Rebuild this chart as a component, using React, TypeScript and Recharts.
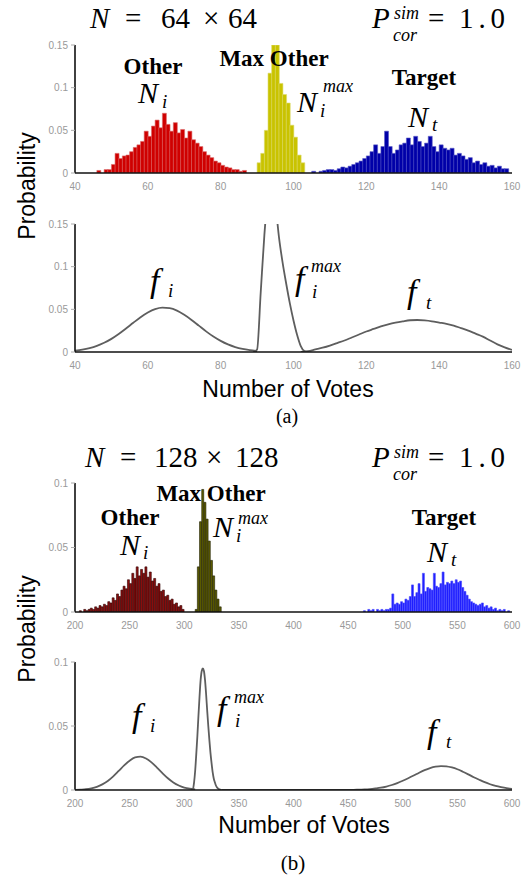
import { ComposedChart, Bar, Line, XAxis, YAxis } from "recharts";

const sans = "'Liberation Sans', Arial, sans-serif";
const serif = "'Liberation Serif', 'Times New Roman', 'DejaVu Serif', serif";

// ---------- (a) N = 64 x 64, one bin per vote ----------
const ticksA = [40, 60, 80, 100, 120, 140, 160];
const yTicksA = [0, 0.05, 0.1, 0.15];

const otherStartA = 45;
const otherA = [
  0.0, 0.003, 0.0, 0.004, 0.004, 0.01, 0.023, 0.017, 0.02, 0.021, 0.025, 0.03,
  0.033, 0.037, 0.049, 0.043, 0.055, 0.062, 0.053, 0.07, 0.057, 0.049, 0.059,
  0.047, 0.051, 0.041, 0.049, 0.039, 0.035, 0.031, 0.025, 0.021, 0.018, 0.014,
  0.012, 0.009, 0.007, 0.006, 0.004, 0.004, 0.002, 0.003,
];
const maxOtherStartA = 90;
const maxOtherA = [
  0.012, 0.023, 0.05, 0.117, 0.17, 0.155, 0.105, 0.092, 0.082, 0.056, 0.042,
  0.021, 0.012,
];
const targetStartA = 105;
const targetA = [
  0.002, 0.0, 0.002, 0.003, 0.004, 0.004, 0.003, 0.005, 0.007, 0.006, 0.008,
  0.01, 0.012, 0.014, 0.017, 0.02, 0.025, 0.033, 0.023, 0.031, 0.049, 0.031,
  0.023, 0.027, 0.033, 0.035, 0.041, 0.033, 0.043, 0.037, 0.031, 0.035, 0.043,
  0.031, 0.025, 0.033, 0.029, 0.027, 0.029, 0.021, 0.023, 0.02, 0.016, 0.018,
  0.012, 0.014, 0.01, 0.012, 0.008, 0.009, 0.006, 0.008, 0.005, 0.005,
];

const fiA: [number, number][] = [
  [40, 0.0016], [42, 0.0028], [44, 0.0046], [46, 0.0072], [48, 0.0108],
  [50, 0.0154], [52, 0.0211], [54, 0.0275], [56, 0.0342], [58, 0.0407],
  [60, 0.0462], [62, 0.0502], [64, 0.0519], [66, 0.0513], [68, 0.0485],
  [70, 0.0436], [72, 0.0376], [74, 0.0309], [76, 0.0242], [78, 0.0181],
  [80, 0.013], [82, 0.0089], [84, 0.0058], [86, 0.0036], [88, 0.0021],
  [90, 0.001],
];
const fMaxA: [number, number][] = [
  [89, 0], [90, 0.003], [91, 0.07], [92, 0.137], [93, 0.185], [94, 0.2],
  [95, 0.175], [96, 0.135], [97, 0.105], [98, 0.08], [99, 0.057], [100, 0.037],
  [101, 0.02], [102, 0.007], [103, 0.001], [104, 0],
];
const ftA: [number, number][] = [
  [102, 0], [104, 0.001], [106, 0.003], [108, 0.005], [110, 0.0075],
  [112, 0.0105], [114, 0.0135], [116, 0.017], [118, 0.0205], [120, 0.024],
  [122, 0.027], [124, 0.03], [126, 0.0325], [128, 0.0345], [130, 0.036],
  [132, 0.0372], [134, 0.0375], [136, 0.037], [138, 0.036], [140, 0.0345],
  [142, 0.033], [144, 0.031], [146, 0.028], [148, 0.025], [150, 0.0215],
  [152, 0.018], [154, 0.0135], [156, 0.009], [158, 0.0055], [160, 0.0025],
];

// ---------- (b) N = 128 x 128, bins of 2 votes ----------
const ticksB = [200, 250, 300, 350, 400, 450, 500, 550, 600];
const yTicksB = [0, 0.05, 0.1];

const otherStartB = 204;
const otherB = [
  0.001, 0.0, 0.002, 0.001, 0.002, 0.003, 0.002, 0.004, 0.003, 0.005, 0.004,
  0.006, 0.005, 0.008, 0.007, 0.011, 0.009, 0.014, 0.012, 0.017, 0.02, 0.018,
  0.025, 0.022, 0.03, 0.026, 0.035, 0.028, 0.033, 0.03, 0.035, 0.027, 0.031,
  0.024, 0.026, 0.02, 0.022, 0.016, 0.017, 0.012, 0.013, 0.009, 0.01, 0.006,
  0.007, 0.004, 0.005, 0.002,
];
const maxOtherStartB = 310;
const maxOtherB = [
  0.002, 0.035, 0.07, 0.095, 0.085, 0.072, 0.055, 0.04, 0.028, 0.017, 0.01,
  0.004,
];
const targetStartB = 464;
const targetB = [
  0.001, 0.0, 0.002, 0.001, 0.002, 0.0, 0.002, 0.001, 0.002, 0.001, 0.002,
  0.002, 0.003, 0.014, 0.006, 0.007, 0.006, 0.008, 0.007, 0.01, 0.009, 0.012,
  0.021, 0.012, 0.015, 0.022, 0.014, 0.03, 0.016, 0.019, 0.018, 0.017, 0.03,
  0.02, 0.019, 0.022, 0.031, 0.021, 0.023, 0.022, 0.024, 0.022, 0.025, 0.023,
  0.024, 0.019, 0.016, 0.013, 0.01, 0.008, 0.007, 0.006, 0.005, 0.006, 0.007,
  0.004, 0.005, 0.003, 0.004, 0.002, 0.003, 0.001, 0.002, 0.001, 0.002, 0.0,
  0.001,
];

const fiB: [number, number][] = [
  [200, 0.0001], [205, 0.0003], [210, 0.0006], [215, 0.0013], [220, 0.0025],
  [225, 0.0044], [230, 0.0071], [235, 0.0107], [240, 0.0149], [245, 0.0192],
  [250, 0.0229], [255, 0.0254], [260, 0.026], [265, 0.0246], [270, 0.0216],
  [275, 0.0175], [280, 0.0132], [285, 0.0092], [290, 0.0059], [295, 0.0035],
  [300, 0.0019], [305, 0.001], [310, 0.0005],
];
const fMaxB: [number, number][] = [
  [306, 0], [308, 0.001], [309, 0.006], [310, 0.015], [311, 0.028],
  [312, 0.042], [313, 0.058], [314, 0.073], [315, 0.086], [316, 0.093],
  [317, 0.095], [318, 0.093], [319, 0.086], [320, 0.075], [321, 0.062],
  [322, 0.05], [323, 0.039], [324, 0.029], [325, 0.021], [326, 0.014],
  [327, 0.009], [328, 0.006], [329, 0.0035], [330, 0.002], [332, 0.0005],
  [334, 0],
];
const ftB: [number, number][] = [
  [334, 0], [450, 0.0001], [455, 0.0001], [460, 0.0003], [465, 0.0004],
  [470, 0.0007], [475, 0.0012], [480, 0.0018], [485, 0.0027], [490, 0.0039],
  [495, 0.0054], [500, 0.0072], [505, 0.0092], [510, 0.0113], [515, 0.0135],
  [520, 0.0155], [525, 0.0171], [530, 0.0182], [535, 0.0187], [540, 0.0185],
  [545, 0.0176], [550, 0.0162], [555, 0.0143], [560, 0.0122], [565, 0.01],
  [570, 0.008], [575, 0.0061], [580, 0.0045], [585, 0.0032], [590, 0.0022],
  [595, 0.0014], [600, 0.0009],
];

type Series = { key: string; start: number; values: number[] };

function histRows(from: number, to: number, step: number, series: Series[]) {
  const rows: Record<string, number>[] = [];
  for (let v = from; v <= to; v += step) {
    const row: Record<string, number> = { v };
    for (const s of series) {
      const i = (v - s.start) / step;
      row[s.key] = i >= 0 && i < s.values.length ? s.values[i] : 0;
    }
    rows.push(row);
  }
  return rows;
}

function curveRows(series: { key: string; pts: [number, number][] }[]) {
  const map = new Map<number, Record<string, number>>();
  for (const s of series) {
    for (const [x, y] of s.pts) {
      const r = map.get(x) ?? { x };
      r[s.key] = y;
      map.set(x, r);
    }
  }
  return [...map.values()].sort((a, b) => a.x - b.x);
}

const histA = histRows(40, 159, 1, [
  { key: "other", start: otherStartA, values: otherA },
  { key: "maxOther", start: maxOtherStartA, values: maxOtherA },
  { key: "target", start: targetStartA, values: targetA },
]);
const histB = histRows(200, 598, 2, [
  { key: "other", start: otherStartB, values: otherB },
  { key: "maxOther", start: maxOtherStartB, values: maxOtherB },
  { key: "target", start: targetStartB, values: targetB },
]);
const curveA = curveRows([
  { key: "fi", pts: fiA },
  { key: "fmax", pts: fMaxA },
  { key: "ft", pts: ftA },
]);
const curveB = curveRows([
  { key: "fi", pts: fiB },
  { key: "fmax", pts: fMaxB },
  { key: "ft", pts: ftB },
]);

const W = 528;
const margin = { top: 10, right: 16, bottom: 0, left: 35 };
const boxLine = { stroke: "#111", strokeWidth: 1.6 };
const tickStyle = { fontSize: 10, fill: "#999", fontFamily: sans };
const innerTick = { stroke: "#c8c8c8" };

function frame(domain: [number, number], ticks: number[], yMax: number, yTicks: number[]) {
  return [
    <XAxis key="b" xAxisId="b" dataKey="x" type="number" domain={domain} ticks={ticks}
      allowDataOverflow interval={0} height={20} tickLine={false} tickMargin={4}
      axisLine={boxLine} tick={tickStyle} />,
    <XAxis key="t" xAxisId="t" orientation="top" type="number" domain={domain} ticks={ticks}
      allowDataOverflow mirror height={0} tick={false} tickSize={3} tickLine={innerTick}
      axisLine={boxLine} />,
    <YAxis key="l" yAxisId="l" type="number" domain={[0, yMax]} ticks={yTicks}
      allowDataOverflow interval={0} width={40} tickSize={4} tickMargin={3}
      tickLine={{ stroke: "#aaa" }} axisLine={boxLine} tick={tickStyle} />,
    <YAxis key="r" yAxisId="r" orientation="right" type="number" domain={[0, yMax]}
      ticks={yTicks} allowDataOverflow mirror width={0} tick={false} tickSize={3}
      tickLine={innerTick} axisLine={boxLine} />,
  ];
}

type Colors = { fill: string; stroke: string };

function Histogram({ data, domain, ticks, yMax, yTicks, colors, plotH }: {
  data: Record<string, number>[]; domain: [number, number]; ticks: number[];
  yMax: number; yTicks: number[]; colors: Colors[]; plotH: number;
}) {
  const keys = ["other", "maxOther", "target"];
  return (
    <ComposedChart width={W} height={margin.top + plotH + 20} data={data} margin={margin}
      barCategoryGap={0} barGap={0}>
      <XAxis xAxisId="cat" dataKey="v" type="category" hide />
      {keys.map((k, i) => (
        <Bar key={k} xAxisId="cat" yAxisId="l" dataKey={k} stackId="h"
          fill={colors[i].fill} stroke={colors[i].stroke} strokeWidth={0.6}
          isAnimationActive={false} />
      ))}
      {frame(domain, ticks, yMax, yTicks)}
    </ComposedChart>
  );
}

function Curves({ data, domain, ticks, yMax, yTicks, plotH }: {
  data: Record<string, number>[]; domain: [number, number]; ticks: number[];
  yMax: number; yTicks: number[]; plotH: number;
}) {
  return (
    <ComposedChart width={W} height={margin.top + plotH + 20} data={data} margin={margin}>
      {["fi", "fmax", "ft"].map((k) => (
        <Line key={k} xAxisId="b" yAxisId="l" dataKey={k} type="monotone" stroke="#5e5e5e"
          strokeWidth={1.8} dot={false} connectNulls isAnimationActive={false} />
      ))}
      {frame(domain, ticks, yMax, yTicks)}
    </ComposedChart>
  );
}

const colorsA: Colors[] = [
  { fill: "#cf0000", stroke: "#dc6a6a" },
  { fill: "#c9c300", stroke: "#dedb70" },
  { fill: "#0000a8", stroke: "#5a5ac8" },
];
const colorsB: Colors[] = [
  { fill: "#8c0e0e", stroke: "#300000" },
  { fill: "#5c5c00", stroke: "#1e1e00" },
  { fill: "#1e1eff", stroke: "#4a4aff" },
];

// serif text, font set on every element
function S({ x, y, size, italic, bold, anchor, len, children }: {
  x: number; y: number; size: number; italic?: boolean; bold?: boolean;
  anchor?: "start" | "middle"; len?: number; children: string;
}) {
  return (
    <text x={x} y={y} fontFamily={serif} fontSize={size} fill="#000"
      fontStyle={italic ? "italic" : "normal"} fontWeight={bold ? "bold" : "normal"}
      textAnchor={anchor ?? "start"} textLength={len} lengthAdjust={len ? "spacing" : undefined}
      style={{ fontFamily: serif }}>
      {children}
    </text>
  );
}

function Sym({ x, y, base, sub, sup, size = 30, subX, supX, subY, supY }: {
  x: number; y: number; base: string; sub?: string; sup?: string; size?: number;
  subX?: number; supX?: number; subY?: number; supY?: number;
}) {
  return (
    <g>
      <S x={x} y={y} size={size} italic>{base}</S>
      {sub && <S x={subX ?? x + 22} y={subY ?? y + 4} size={19} italic>{sub}</S>}
      {sup && <S x={supX ?? x + 25} y={supY ?? y - 18} size={18} italic>{sup}</S>}
    </g>
  );
}

function Title({ y, n, xs }: { y: number; n: string; xs: number[] }) {
  return (
    <g>
      <S x={xs[0]} y={y} size={29} italic>N</S>
      <S x={xs[1]} y={y} size={29}>=</S>
      <S x={xs[2]} y={y} size={29}>{n}</S>
      <S x={xs[3]} y={y} size={29}>×</S>
      <S x={xs[4]} y={y} size={29}>{n}</S>
      <S x={372} y={y} size={29} italic>P</S>
      <S x={394} y={y - 9} size={18} italic>sim</S>
      <S x={393} y={y + 13} size={18} italic>cor</S>
      <S x={428} y={y} size={29}>=</S>
      <S x={459} y={y} size={29} len={46}>1.0</S>
    </g>
  );
}

export default function App() {
  return (
    <div style={{ position: "absolute", left: 0, top: 0, width: W, height: 875, background: "#fff" }}>
      <div style={{ position: "absolute", left: 0, top: 35 }}>
        <Histogram data={histA} domain={[40, 160]} ticks={ticksA} yMax={0.15} yTicks={yTicksA}
          colors={colorsA} plotH={128} />
      </div>
      <div style={{ position: "absolute", left: 0, top: 214 }}>
        <Curves data={curveA} domain={[40, 160]} ticks={ticksA} yMax={0.15} yTicks={yTicksA} plotH={128} />
      </div>
      <div style={{ position: "absolute", left: 0, top: 473 }}>
        <Histogram data={histB} domain={[200, 600]} ticks={ticksB} yMax={0.1} yTicks={yTicksB}
          colors={colorsB} plotH={129} />
      </div>
      <div style={{ position: "absolute", left: 0, top: 652 }}>
        <Curves data={curveB} domain={[200, 600]} ticks={ticksB} yMax={0.1} yTicks={yTicksB} plotH={128} />
      </div>

      <svg width={W} height={875} style={{ position: "absolute", left: 0, top: 0, pointerEvents: "none" }}>
        <Title y={28} n="64" xs={[90, 125, 161, 203, 228]} />
        <Title y={467} n="128" xs={[85, 120, 154, 206, 235]} />

        {/* (a) histogram labels */}
        <S x={153} y={74} size={23} bold anchor="middle">Other</S>
        <Sym x={138} y={103} base="N" sub="i" subX={162} subY={108} />
        <S x={274} y={66} size={23} bold anchor="middle">Max Other</S>
        <Sym x={297} y={112} base="N" sub="i" sup="max" subX={320} subY={117} supX={323} supY={92} />
        <S x={424} y={85} size={23} bold anchor="middle">Target</S>
        <Sym x={408} y={127} base="N" sub="t" subX={432} subY={131} />

        {/* (a) curve labels */}
        <Sym x={150} y={292} size={34} base="f" sub="i" subX={168} subY={297} />
        <Sym x={295} y={290} size={34} base="f" sub="i" sup="max" subX={312} subY={298} supX={311} supY={272} />
        <Sym x={407} y={303} size={34} base="f" sub="t" subX={426} subY={309} />

        {/* (b) histogram labels */}
        <S x={211} y={501} size={23} bold anchor="middle">Max Other</S>
        <S x={130} y={525} size={23} bold anchor="middle">Other</S>
        <Sym x={120} y={555} base="N" sub="i" subX={143} subY={559} />
        <Sym x={213} y={537} base="N" sub="i" sup="max" subX={236} subY={542} supX={238} supY={524} />
        <S x={444} y={525} size={23} bold anchor="middle">Target</S>
        <Sym x={427} y={562} base="N" sub="t" subX={451} subY={566} />

        {/* (b) curve labels */}
        <Sym x={132} y={727} size={34} base="f" sub="i" subX={150} subY={732} />
        <Sym x={217} y={720} size={34} base="f" sub="i" sup="max" subX={235} subY={727} supX={234} supY={703} />
        <Sym x={427} y={743} size={34} base="f" sub="t" subX={446} subY={748} />

        <g fontFamily={sans} fontSize={23} fill="#000" textAnchor="middle">
          <text transform="translate(35,186) rotate(-90)">Probability</text>
          <text transform="translate(35,629) rotate(-90)">Probability</text>
          <text x={288} y={397}>Number of Votes</text>
          <text x={304} y={833}>Number of Votes</text>
        </g>
        <S x={287} y={423} size={20} anchor="middle">(a)</S>
        <S x={293} y={870} size={21} anchor="middle">(b)</S>
      </svg>
    </div>
  );
}
